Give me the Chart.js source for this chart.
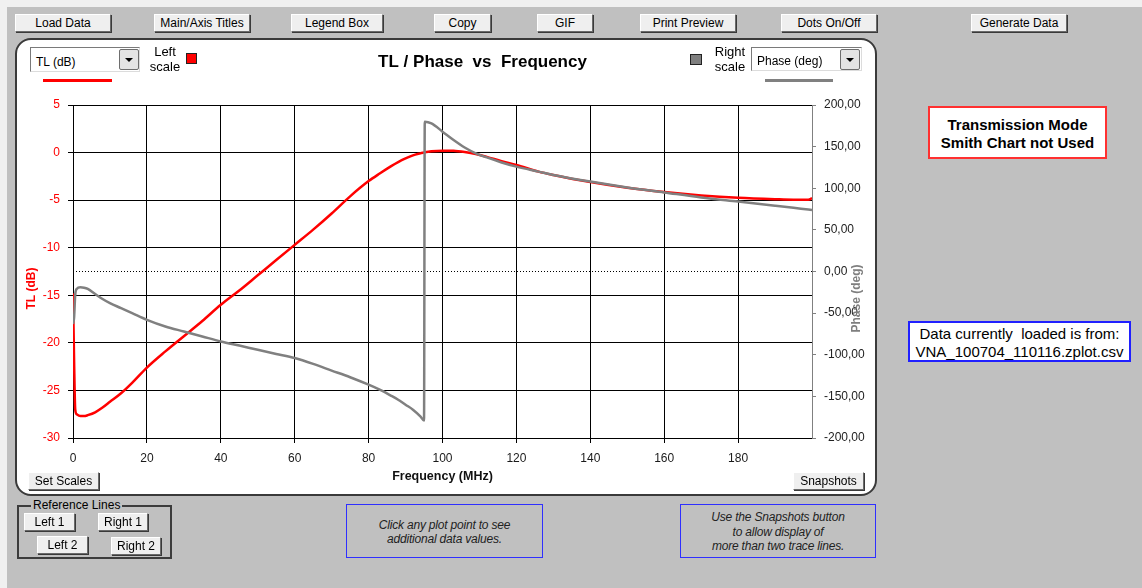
<!DOCTYPE html>
<html>
<head>
<meta charset="utf-8">
<script src="https://cdn.jsdelivr.net/npm/chart.js@4.4.1/dist/chart.umd.min.js"></script>
<style>
html,body{margin:0;padding:0;}
body{width:1142px;height:588px;background:#c0c0c0;position:relative;overflow:hidden;font-family:"Liberation Sans",Arial,sans-serif;color:#000;}
.a{position:absolute;}
.strip{position:absolute;background:#f0f0f0;}
.btn{position:absolute;box-sizing:border-box;height:18px;background:#efefef;border:1px solid;border-color:#ffffff #6a6a6a #6a6a6a #ffffff;box-shadow:1px 1px 0 #3a3a3a;font-size:12px;line-height:16px;text-align:center;white-space:nowrap;z-index:5;}
#frame{position:absolute;left:15px;top:38px;width:862px;height:458px;box-sizing:border-box;border:2px solid #3a3a3a;border-radius:16px;background:#fff;}
#cwrap{position:absolute;left:17px;top:40px;width:858px;height:446px;z-index:2;}
.dd{position:absolute;box-sizing:border-box;background:#fff;border:1px solid;border-color:#7a7a7a #dcdcdc #dcdcdc #7a7a7a;font-size:12px;z-index:5;white-space:nowrap;}
.ddbtn{position:absolute;box-sizing:border-box;background:#e4e4e4;border:1px solid #6e6e6e;border-radius:2px;z-index:6;}
.tri{position:absolute;left:5px;top:8px;width:0;height:0;border-left:4px solid transparent;border-right:4px solid transparent;border-top:4px solid #000;}
.lbl{position:absolute;font-size:13px;line-height:14.5px;text-align:center;z-index:5;}
.sq{position:absolute;box-sizing:border-box;border:1px solid #222;z-index:5;}
.bar{position:absolute;height:3px;z-index:5;}
.note{position:absolute;box-sizing:border-box;border:1.5px solid #2f2fff;font-style:italic;font-size:12px;line-height:14px;text-align:center;color:#222;letter-spacing:-0.2px;}
</style>
</head>
<body>
<div class="strip" style="left:0;top:0;width:1142px;height:7px;"></div>
<div class="strip" style="left:0;top:0;width:7px;height:588px;"></div>

<div class="btn" style="left:15px;top:14px;width:96px;">Load Data</div>
<div class="btn" style="left:154px;top:14px;width:96px;">Main/Axis Titles</div>
<div class="btn" style="left:291px;top:14px;width:92px;">Legend Box</div>
<div class="btn" style="left:434px;top:14px;width:57px;">Copy</div>
<div class="btn" style="left:537px;top:14px;width:56px;">GIF</div>
<div class="btn" style="left:640px;top:14px;width:96px;">Print Preview</div>
<div class="btn" style="left:781px;top:14px;width:96px;">Dots On/Off</div>
<div class="btn" style="left:971px;top:14px;width:96px;">Generate Data</div>

<div id="frame"></div>
<div id="cwrap"><canvas id="c" width="858" height="446"></canvas></div>

<div class="dd" style="left:30px;top:47px;width:110px;height:25px;"><span class="a" style="left:5px;top:7px;">TL (dB)</span></div>
<div class="ddbtn" style="left:119px;top:49px;width:20px;height:21px;"><div class="tri"></div></div>
<div class="lbl" style="left:145px;top:45px;width:40px;">Left<br>scale</div>
<div class="sq" style="left:186px;top:53px;width:11px;height:11px;background:#ff0000;"></div>
<div class="bar" style="left:43px;top:79px;width:69px;background:#ff0000;"></div>

<div class="sq" style="left:690px;top:54px;width:12px;height:11px;background:#7f7f7f;"></div>
<div class="lbl" style="left:710px;top:45px;width:40px;">Right<br>scale</div>
<div class="dd" style="left:751px;top:47px;width:111px;height:24px;"><span class="a" style="left:5px;top:6px;">Phase (deg)</span></div>
<div class="ddbtn" style="left:840px;top:49px;width:20px;height:21px;"><div class="tri"></div></div>
<div class="bar" style="left:765px;top:79px;width:68px;background:#808080;"></div>

<div class="btn" style="left:28px;top:472px;width:71px;">Set Scales</div>
<div class="btn" style="left:793px;top:472px;width:71px;">Snapshots</div>

<div class="a" style="left:17px;top:505px;width:155px;height:54px;box-sizing:border-box;border:2px solid #3c3c3c;"></div>
<div class="a" style="left:31px;top:498px;font-size:12px;line-height:14px;background:#c0c0c0;padding:0 2px;">Reference Lines</div>
<div class="btn" style="left:24px;top:513px;width:51px;">Left 1</div>
<div class="btn" style="left:98px;top:513px;width:50px;">Right 1</div>
<div class="btn" style="left:37px;top:536px;width:51px;">Left 2</div>
<div class="btn" style="left:111px;top:537px;width:50px;">Right 2</div>

<div class="note" style="left:346px;top:504px;width:197px;height:54px;padding-top:13px;">Click any plot point to see<br>additional data values.</div>
<div class="note" style="left:680px;top:504px;width:196px;height:54px;padding-top:5px;line-height:14.5px;">Use the Snapshots button<br>to allow display of<br>more than two trace lines.</div>

<div class="a" style="left:928px;top:106px;width:179px;height:53px;box-sizing:border-box;border:2px solid #ff3030;background:#fff;font-weight:bold;font-size:15px;line-height:17.5px;text-align:center;padding-top:8px;">Transmission Mode<br>Smith Chart not Used</div>
<div class="a" style="left:908px;top:321px;width:223px;height:41px;box-sizing:border-box;border:2px solid #2020ff;background:#fff;font-size:15px;line-height:17.5px;text-align:center;padding-top:2px;white-space:pre;">Data currently  loaded is from:
VNA_100704_110116.zplot.csv</div>

<script>
// ---- data ----
const freqMHz = [0, 0.3, 0.6, 1, 2, 3, 4, 6, 8, 10, 13, 16, 20, 25, 30, 35, 40, 45, 50, 55, 60, 65, 70, 75, 80, 83, 86, 88, 90, 92, 94, 95, 95.2, 97, 100, 103, 106, 109, 112, 116, 120, 126, 130, 140, 150, 160, 170, 180, 190, 195, 199, 200];
const tlDb = [-14.8, -22.0, -27.0, -27.5, -27.7, -27.7, -27.6, -27.3, -26.8, -26.2, -25.3, -24.2, -22.6, -20.9, -19.3, -17.7, -16.0, -14.5, -12.9, -11.3, -9.7, -8.1, -6.4, -4.6, -3.0, -2.2, -1.45, -1.0, -0.62, -0.3, -0.08, 0.02, 0.04, 0.15, 0.2, 0.18, 0.05, -0.15, -0.45, -0.9, -1.3, -2.0, -2.35, -3.1, -3.7, -4.15, -4.5, -4.75, -4.9, -4.95, -4.95, -4.8];
const phaseDeg = [-63, -55, -28, -21, -19, -19.5, -21, -27, -33, -38, -44, -50, -58, -66, -72, -78, -84, -89, -94, -99, -104, -111, -119, -127, -136, -142, -149, -154, -160, -166, -174, -179, 180, 178, 168, 158, 149, 142, 137, 131, 126, 120, 116, 108, 101, 95, 89, 84, 79, 76.5, 74.5, 74];
const refPhaseDeg = [0];
const xTickValues = [0, 20, 40, 60, 80, 100, 120, 140, 160, 180];
const tlTickValues = [5, 0, -5, -10, -15, -20, -25, -30];
const phaseTickValues = [200, 150, 100, 50, 0, -50, -100, -150, -200];
const xRange = [0, 200];
const tlRange = [-30, 5];
const phaseRange = [-200, 200];
const mainTitle = 'TL / Phase  vs  Frequency';
const xTitle = 'Frequency (MHz)';
const leftTitle = 'TL (dB)';
const rightTitle = 'Phase (deg)';

const FONT = '"Liberation Sans", Arial, sans-serif';
const tlPoints = freqMHz.map((f, i) => ({x: f, y: tlDb[i]}));
const phasePoints = freqMHz.map((f, i) => ({x: f, y: phaseDeg[i]}));
const refPoints = [{x: xRange[0], y: refPhaseDeg[0]}, {x: xRange[1], y: refPhaseDeg[0]}];
const setTicks = vals => scale => { scale.ticks = vals.map(v => ({value: v})); };

const titlesPlugin = {
  id: 'frameTitles',
  afterDraw(chart) {
    const {ctx, chartArea: a} = chart;
    ctx.save();
    ctx.textAlign = 'center';
    ctx.textBaseline = 'middle';
    ctx.fillStyle = '#000';
    ctx.font = 'bold 17px ' + FONT;
    ctx.fillText(mainTitle, (a.left + a.right) / 2 + 40, a.top - 43);
    ctx.font = 'bold 12px ' + FONT;
    ctx.save();
    ctx.translate(a.left - 41, a.top + 183.5);
    ctx.rotate(-Math.PI / 2);
    ctx.fillStyle = '#ff0000';
    ctx.fillText(leftTitle, 0, 0);
    ctx.restore();
    ctx.save();
    ctx.translate(a.right + 45, a.top + 193.5);
    ctx.rotate(-Math.PI / 2);
    ctx.fillStyle = '#7f7f7f';
    ctx.fillText(rightTitle, 0, 0);
    ctx.restore();
    ctx.restore();
  }
};

new Chart(document.getElementById('c'), {
  type: 'line',
  data: {
    datasets: [
      {label: rightTitle, data: phasePoints, yAxisID: 'yR', borderColor: '#808080', borderWidth: 2.5, pointRadius: 0, cubicInterpolationMode: 'monotone', order: 1},
      {label: leftTitle, data: tlPoints, yAxisID: 'yL', borderColor: '#ff0000', borderWidth: 2.5, pointRadius: 0, cubicInterpolationMode: 'monotone', order: 2},
      {label: 'ref', data: refPoints, yAxisID: 'yR', borderColor: '#000000', borderWidth: 1, borderDash: [1, 2], pointRadius: 0, order: 3}
    ]
  },
  options: {
    responsive: false,
    animation: false,
    layout: {padding: {top: 65, left: 0, right: 0, bottom: 0}},
    plugins: {legend: {display: false}, tooltip: {enabled: false}, title: {display: false}},
    scales: {
      x: {
        type: 'linear', min: xRange[0], max: xRange[1],
        afterBuildTicks: setTicks(xTickValues),
        afterFit: s => { s.height = 48; },
        grid: {color: '#000', lineWidth: 1, tickLength: 5},
        border: {color: '#000', width: 1},
        ticks: {color: '#1a1a1a', font: {family: FONT, size: 12}, padding: 8, maxRotation: 0, autoSkip: false},
        title: {display: true, text: xTitle, color: '#111', font: {family: FONT, size: 12.5, weight: 'bold'}, padding: {top: 0, bottom: 2}}
      },
      yL: {
        type: 'linear', position: 'left', min: tlRange[0], max: tlRange[1],
        afterBuildTicks: setTicks(tlTickValues),
        afterFit: s => { s.width = 56; },
        grid: {color: '#000', lineWidth: 1, tickLength: 5},
        border: {color: '#000', width: 1},
        ticks: {color: '#ff0000', font: {family: FONT, size: 12}, padding: 8, autoSkip: false}
      },
      yR: {
        type: 'linear', position: 'right', min: phaseRange[0], max: phaseRange[1],
        afterBuildTicks: setTicks(phaseTickValues),
        afterFit: s => { s.width = 63; },
        grid: {drawOnChartArea: false, color: '#808080', lineWidth: 1, tickLength: 4},
        border: {color: '#808080', width: 1},
        ticks: {color: '#222', font: {family: FONT, size: 12}, padding: 8, autoSkip: false,
                callback: v => Number(v).toFixed(2).replace('.', ',')}
      }
    }
  },
  plugins: [titlesPlugin]
});
</script>
</body>
</html>
